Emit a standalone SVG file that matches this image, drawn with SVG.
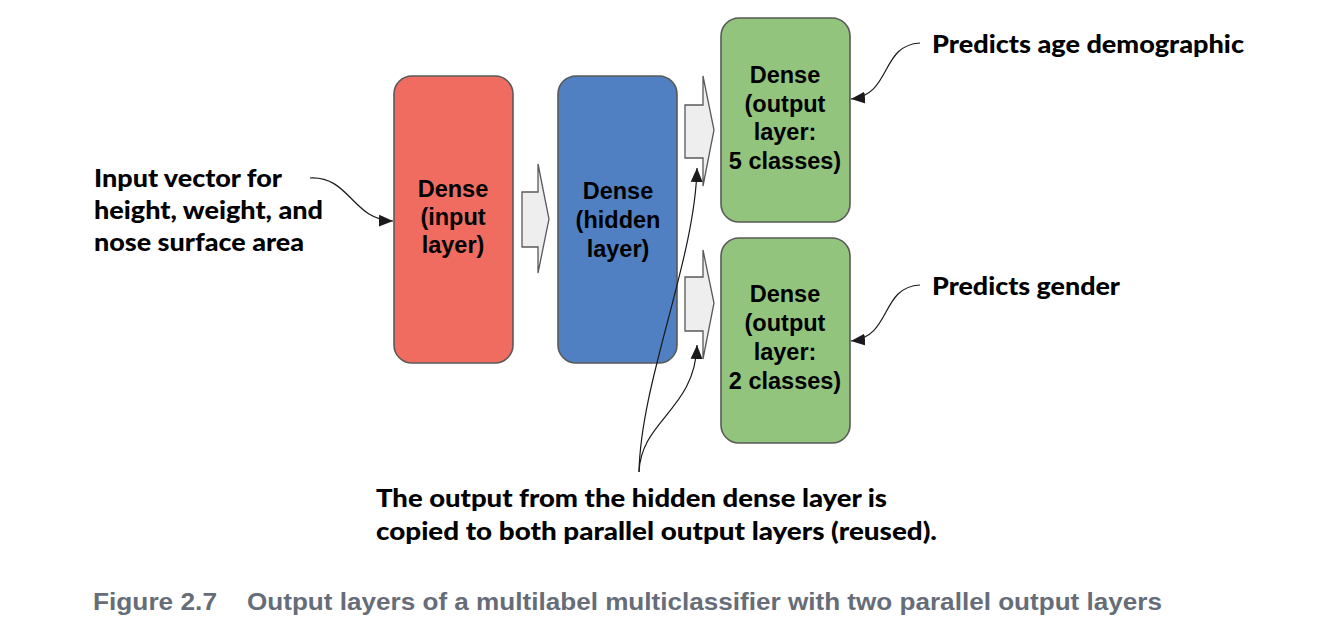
<svg xmlns="http://www.w3.org/2000/svg" width="1324" height="638" viewBox="0 0 1324 638">
<defs>
<marker id="ah" markerUnits="userSpaceOnUse" markerWidth="16" markerHeight="14" refX="14" refY="7" orient="auto">
<path d="M0,1 L14,7 L0,13 Z" fill="#1a1a1a"/>
</marker>
<style>
.box{stroke:#595959;stroke-width:1.6}
.blk{fill:#eeeeee;stroke:#595959;stroke-width:1.3}
.bt{font-family:"Liberation Sans",Arial,sans-serif;font-weight:bold;font-size:23.5px;fill:#000;text-anchor:middle}
.lb{font-family:Lato,"Open Sans",sans-serif;font-weight:900;font-size:25px;fill:#000}
.cap{font-family:"Liberation Sans Narrow","Liberation Sans",Arial,sans-serif;font-weight:bold;font-size:23px;fill:#666d78}
.con{fill:none;stroke:#1a1a1a;stroke-width:1.2;marker-end:url(#ah)}
</style>
</defs>
<rect width="1324" height="638" fill="#fff"/>

<g id="input-layer">
<rect class="box" x="394" y="76" width="119" height="287" rx="18" fill="#f16c60"/>
<text class="bt" x="453" y="197">Dense</text>
<text class="bt" x="453" y="225">(input</text>
<text class="bt" x="453" y="253">layer)</text>
</g>

<g id="hidden-layer">
<rect class="box" x="558" y="76" width="119" height="287" rx="18" fill="#5080c1"/>
<text class="bt" x="618" y="199">Dense</text>
<text class="bt" x="618" y="228">(hidden</text>
<text class="bt" x="618" y="257">layer)</text>
</g>

<g id="output-age">
<rect class="box" x="721" y="18" width="129" height="204" rx="18" fill="#93c47d"/>
<text class="bt" x="785" y="83">Dense</text>
<text class="bt" x="785" y="112">(output</text>
<text class="bt" x="785" y="140">layer:</text>
<text class="bt" x="785" y="169">5 classes)</text>
</g>

<g id="output-gender">
<rect class="box" x="721" y="238" width="129" height="205" rx="18" fill="#93c47d"/>
<text class="bt" x="785" y="302">Dense</text>
<text class="bt" x="785" y="331">(output</text>
<text class="bt" x="785" y="360">layer:</text>
<text class="bt" x="785" y="389">2 classes)</text>
</g>

<g id="flow-arrows">
<path class="blk" d="M522,192 H538 V164 L549,219 L538,273 V247 H522 Z"/>
<path class="blk" d="M685,105 H703 V76 L714,130 L703,186 V158 H685 Z"/>
<path class="blk" d="M685,277 H703 V250 L714,303 L703,359 V331 H685 Z"/>
</g>

<g id="labels">
<text class="lb" x="94" y="187" textLength="188" lengthAdjust="spacingAndGlyphs">Input vector for</text>
<text class="lb" x="94" y="219" textLength="229" lengthAdjust="spacingAndGlyphs">height, weight, and</text>
<text class="lb" x="94" y="251" textLength="210" lengthAdjust="spacingAndGlyphs">nose surface area</text>
<text class="lb" x="932" y="53" textLength="312" lengthAdjust="spacingAndGlyphs">Predicts age demographic</text>
<text class="lb" x="932" y="295" textLength="188" lengthAdjust="spacingAndGlyphs">Predicts gender</text>
<text class="lb" x="376" y="507" textLength="511" lengthAdjust="spacingAndGlyphs">The output from the hidden dense layer is</text>
<text class="lb" x="376" y="540" textLength="561" lengthAdjust="spacingAndGlyphs">copied to both parallel output layers (reused).</text>
</g>

<g id="connectors">
<path class="con" d="M310,178 C350,176 352,220 393,221"/>
<path class="con" d="M920,43 C880,45 892,95 851,99"/>
<path class="con" d="M920,285 C880,287 892,337 851,341"/>
<path class="con" d="M639,472 C641,380 695,260 697,168"/>
<path class="con" d="M639,472 C641,420 695,410 697,345"/>
</g>

<g id="caption">
<text class="cap" x="93" y="610" textLength="124" lengthAdjust="spacingAndGlyphs">Figure 2.7</text>
<text class="cap" x="247" y="610" textLength="915" lengthAdjust="spacingAndGlyphs">Output layers of a multilabel multiclassifier with two parallel output layers</text>
</g>
</svg>
